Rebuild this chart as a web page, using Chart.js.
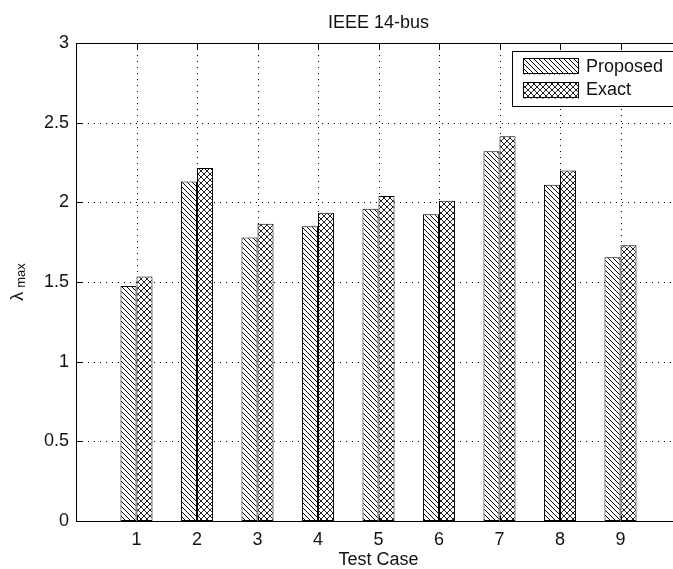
<!DOCTYPE html>
<html><head><meta charset="utf-8">
<script src="https://cdn.jsdelivr.net/npm/chart.js@4.4.0/dist/chart.umd.min.js"></script>
<style>html,body{margin:0;padding:0;background:#fff;overflow:hidden;} #wrap{width:673px;height:569px;overflow:hidden;position:relative;} canvas{display:block;}</style>
</head><body>
<div id="wrap"><canvas id="c" width="700" height="569" style="width:700px;height:569px"></canvas></div>
<script>
// ---- data ----
const categories = [1, 2, 3, 4, 5, 6, 7, 8, 9];
const proposed = [1.475, 2.13, 1.78, 1.85, 1.96, 1.925, 2.32, 2.11, 1.655];
const exact    = [1.535, 2.215, 1.865, 1.935, 2.04, 2.01, 2.415, 2.20, 1.73];
const yTicks = [0, 0.5, 1, 1.5, 2, 2.5, 3];
const seriesNames = ['Proposed', 'Exact'];
const titleText = 'IEEE 14-bus';
const xTitleText = 'Test Case';
const yTitleMain = '\u03bb';
const yTitleSub = 'max';

const FONT = "'Liberation Sans', Arial, Helvetica, sans-serif";
const TXT = '#111';
const canvas = document.getElementById('c');
const mainCtx = canvas.getContext('2d');

function makePattern(p, cross, color) {
  const c = document.createElement('canvas');
  c.width = p; c.height = p;
  const g = c.getContext('2d');
  g.fillStyle = '#fff'; g.fillRect(0, 0, p, p);
  g.fillStyle = color;
  for (let i = 0; i < p; i++) {
    g.fillRect(i, i, 1, 1);
    if (cross) g.fillRect(p - 1 - i, i, 1, 1);
  }
  return mainCtx.createPattern(c, 'repeat');
}
const patProposed = makePattern(5, false, '#000');
const patExact = makePattern(6, true, '#222');
const patterns = [patProposed, patExact];

function hline(ctx, x1, x2, y) { ctx.beginPath(); ctx.moveTo(x1, y); ctx.lineTo(x2, y); ctx.stroke(); }
function vline(ctx, x, y1, y2) { ctx.beginPath(); ctx.moveTo(x, y1); ctx.lineTo(x, y2); ctx.stroke(); }

const matlabPlugin = {
  id: 'matlabLook',
  beforeDatasetsDraw(chart) {
    const { ctx, chartArea: a, scales: { x, y } } = chart;
    ctx.save();
    ctx.strokeStyle = '#000';
    ctx.lineWidth = 1;
    ctx.setLineDash([1, 5]);
    categories.forEach(v => {
      const px = Math.round(x.getPixelForValue(v)) + 0.5;
      vline(ctx, px, a.top, a.bottom);
    });
    yTicks.forEach(v => {
      const py = Math.round(y.getPixelForValue(v)) + 0.5;
      hline(ctx, a.left, a.right, py);
    });
    ctx.restore();
  },
  afterDatasetsDraw(chart) {
    const { ctx, chartArea: a, scales: { x, y } } = chart;
    const L = Math.round(a.left) + 0.5, R = Math.round(a.right) + 0.5;
    const T = Math.round(a.top) + 0.5, B = Math.round(a.bottom) + 0.5;
    const tl = 6;
    ctx.save();
    ctx.strokeStyle = '#000';
    ctx.lineWidth = 1;
    ctx.setLineDash([]);
    ctx.beginPath();
    ctx.moveTo(L, T); ctx.lineTo(R, T); ctx.lineTo(R, B); ctx.lineTo(L, B); ctx.closePath();
    ctx.stroke();
    categories.forEach(v => {
      const px = Math.round(x.getPixelForValue(v)) + 0.5;
      vline(ctx, px, B, B - tl);
      vline(ctx, px, T, T + tl);
    });
    yTicks.forEach(v => {
      const py = Math.round(y.getPixelForValue(v)) + 0.5;
      hline(ctx, L, L + tl, py);
      hline(ctx, R, R - tl, py);
    });
    // legend (box runs past the visible right edge, as in the reference)
    const lx = 512.5, ly = 51.5, lw = 170, lh = 55;
    ctx.fillStyle = '#fff';
    ctx.fillRect(lx, ly, lw, lh);
    ctx.strokeRect(lx, ly, lw, lh);
    const rows = [66, 89.5];
    ctx.font = '18px ' + FONT;
    ctx.textBaseline = 'middle';
    ctx.textAlign = 'left';
    chart.data.datasets.forEach((ds, i) => {
      const sy = Math.round(rows[i] - 8) + 0.5;
      ctx.fillStyle = patterns[i];
      ctx.fillRect(523, sy, 56, 16);
      ctx.strokeStyle = '#000';
      ctx.strokeRect(523.5, sy, 55, 15);
      ctx.fillStyle = TXT;
      ctx.fillText(ds.label, 586, rows[i] + 1);
    });
    const cx = (a.left + a.right) / 2;
    ctx.fillStyle = TXT;
    ctx.textAlign = 'center';
    ctx.textBaseline = 'alphabetic';
    ctx.font = '18px ' + FONT;
    ctx.fillText(titleText, cx, 28);
    ctx.fillText(xTitleText, cx, 565);
    ctx.save();
    const yc = (a.top + a.bottom) / 2;
    ctx.translate(23, yc);
    ctx.rotate(-Math.PI / 2);
    ctx.font = '18px ' + FONT;
    const w1 = ctx.measureText(yTitleMain).width;
    ctx.font = '13px ' + FONT;
    const w2 = ctx.measureText(yTitleSub).width;
    const gap = 4;
    const start = -(w1 + gap + w2) / 2;
    ctx.textAlign = 'left';
    ctx.font = '18px ' + FONT;
    ctx.fillText(yTitleMain, start, 0);
    ctx.font = '13px ' + FONT;
    ctx.fillText(yTitleSub, start + w1 + gap, 2);
    ctx.restore();
    ctx.restore();
  }
};

new Chart(canvas, {
  type: 'bar',
  data: {
    labels: categories,
    datasets: [
      { label: seriesNames[0], data: proposed, backgroundColor: patProposed, borderColor: '#000', borderWidth: 1, borderSkipped: false },
      { label: seriesNames[1], data: exact, backgroundColor: patExact, borderColor: '#000', borderWidth: 1, borderSkipped: false }
    ]
  },
  options: {
    responsive: false,
    animation: false,
    devicePixelRatio: 1,
    layout: { padding: { left: 0, right: 19, top: 43, bottom: 0 } },
    datasets: { bar: { categoryPercentage: 0.53, barPercentage: 1.0 } },
    plugins: { legend: { display: false }, title: { display: false }, tooltip: { enabled: false } },
    scales: {
      x: {
        type: 'linear', min: 0, max: 10, offset: false,
        afterBuildTicks: s => { s.ticks = categories.map(v => ({ value: v })); },
        afterFit: s => { s.height = 48; },
        grid: { display: false, drawTicks: false, offset: false },
        border: { display: false },
        ticks: { color: TXT, font: { family: FONT, size: 18 }, padding: 8, maxRotation: 0, autoSkip: false, callback: v => String(v) }
      },
      y: {
        min: 0, max: 3,
        afterBuildTicks: s => { s.ticks = yTicks.map(v => ({ value: v })); },
        afterFit: s => { s.width = 76; },
        grid: { display: false, drawTicks: false },
        border: { display: false },
        ticks: { color: TXT, font: { family: FONT, size: 18 }, padding: 7, autoSkip: false, callback: v => String(v) }
      }
    }
  },
  plugins: [matlabPlugin]
});
</script>
</body></html>
